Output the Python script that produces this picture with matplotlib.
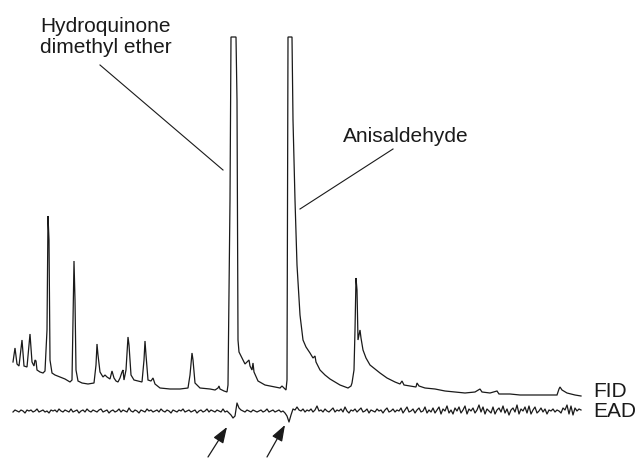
import numpy as np
import matplotlib
matplotlib.use("Agg")
import matplotlib.pyplot as plt

plt.rcParams['font.family'] = ['Liberation Sans', 'DejaVu Sans']

# FID trace: retention time (arb. units) and detector response (arb. units), peaks clipped at 363
fid_t = [13, 15, 17, 19, 22, 24, 27, 30, 32, 34, 35, 36, 37, 40, 43, 45, 47, 48, 49, 50,
         52, 55, 60, 65, 70, 72, 74, 75, 76, 78, 82, 88, 94, 96, 97, 98, 100, 103, 105, 107,
         110, 112, 114, 116, 118, 120, 122, 123, 124, 126, 128, 129, 131, 134, 138, 142, 144, 145, 146, 148,
         151, 153, 155, 160, 170, 180, 188, 190, 192, 193, 195, 200, 210, 215, 218, 219, 220, 224, 227, 228,
         230, 231, 236, 237, 238, 239, 242, 245, 247, 249, 250, 252, 253, 254, 258, 265, 275, 280, 282, 284,
         286, 287, 288, 292, 293, 295, 297, 300, 303, 306, 310, 313, 315, 316, 320, 325, 330, 335, 340, 348,
         351, 352, 354, 355, 356, 357, 358, 359, 360, 361, 363, 366, 370, 375, 380, 387, 395, 400, 402, 404,
         410, 416, 417, 419, 425, 435, 445, 455, 465, 475, 480, 482, 490, 497, 499, 510, 520, 530, 540, 550,
         557, 559, 560, 562, 567, 575, 581]
fid_v = [38, 52, 36, 34, 60, 34, 33, 66, 38, 34, 40, 39, 30, 28, 27, 29, 70, 184, 160, 40,
         27, 25, 23, 21, 18, 20, 139, 100, 30, 19, 17, 16, 17, 35, 56, 45, 28, 23, 25, 23,
         21, 29, 22, 19, 18, 22, 28, 30, 20, 30, 63, 55, 25, 20, 19, 18, 40, 59, 45, 20,
         19, 22, 16, 12, 11, 11, 12, 25, 47, 40, 17, 12, 11, 10, 12, 14, 11, 9, 8, 15,
         200, 363, 363, 300, 60, 48, 42, 36, 38, 40, 34, 30, 37, 28, 19, 15, 13, 12, 14, 12,
         10, 20, 363, 363, 280, 200, 135, 85, 60, 53, 47, 42, 44, 38, 30, 25, 21, 18, 15, 12,
         14, 17, 30, 70, 122, 110, 60, 65, 70, 62, 50, 42, 35, 31, 27, 22, 18, 16, 19, 15,
         14, 13, 17, 14, 12, 11, 9, 8, 7, 8, 11, 8, 7, 9, 6, 6, 5, 5, 5, 5,
         5, 11, 13, 10, 7, 5, 4]

# EAD trace: antennal response (arb. units), sampled every 2 time units from 13
ead_t = np.arange(13, 582, 2)
ead_v = [-1, 1, 0, -1, 1, 0, -2, 1, 0, 1,
         -1, 0, 2, -1, 0, 1, -1, 0, -2, 1,
         0, 1, -1, 2, 0, -1, 1, 0, -1, 2,
         -1, 0, 1, -2, 0, 1, -1, 2, 0, -1,
         1, 0, -1, 1, 2, -1, 0, 1, -2, 0,
         1, -1, 0, 2, -1, 1, 0, -1, 3, 0,
         -1, 1, 0, -2, 1, 0, -1, 2, 0, 1,
         -1, 0, 1, -1, 2, 0, -1, 1, 0, -2,
         1, 0, -1, 1, 0, 2, -1, 0, 1, -1,
         0, 1, -2, 0, 1, -1, 0, 2, -1, 1,
         0, -1, 1, 0, -1, 2, -1, 0, -2, -4,
         -7, -5, 8, 3, 1, 0, -1, 1, 0, -1,
         1, 0, -1, 0, 1, -1, 0, 2, -1, 0,
         1, -1, 0, 1, -1, 0, -2, -5, -11, -4,
         2, 1, 4, 1, 0, 2, -1, 1, 0, 2,
         -1, 1, 5, 0, 1, -1, 2, 0, -1, 1,
         3, -1, 1, 0, 2, -1, 4, 0, -2, 1,
         0, 2, -1, 1, 3, -1, 0, 2, -2, 1,
         0, -1, 2, 0, 1, -2, 1, 3, -1, 0,
         2, -1, 1, 0, 3, -2, 1, 4, -1, 0,
         2, -2, 1, 3, -1, 0, 4, -2, 1, -1,
         3, -2, 1, 4, -3, 2, 0, 5, -2, 1,
         -3, 3, 0, 4, -2, 1, 5, -3, 2, 0,
         3, -2, 1, 6, -1, 4, -3, 2, 0, -2,
         4, -3, 1, 3, -1, 5, -2, 2, -4, 1,
         3, -1, 6, -3, 2, 0, 4, -2, 5, -3,
         1, 4, -2, 0, 3, -1, 2, -3, 1, 0,
         2, -1, 1, 0, -2, 3, 1, 6, -3, 5,
         -4, 3, 0, 2, 1]

ead_offset = -11

fig = plt.figure(figsize=(6.35, 4.58), dpi=100)
ax = fig.add_axes([0, 0, 1, 1])
ax.plot(fid_t, fid_v, color='#1a1a1a', lw=0.9, solid_joinstyle='miter')
ax.plot(ead_t, np.array(ead_v) + ead_offset, color='#1a1a1a', lw=0.9)
ax.set_xlim(0, 635)
ax.set_ylim(-58, 400)
ax.axis('off')

# compound labels with leader lines
ax.text(40, 368, "Hydroquinone", fontsize=15, color='#1a1a1a')
ax.text(40, 347, "dimethyl ether", fontsize=15, color='#1a1a1a')
ax.plot([100, 223], [335, 230], color='#1a1a1a', lw=0.8)
ax.text(343, 258, "Anisaldehyde", fontsize=15, color='#1a1a1a')
ax.plot([393, 300], [251, 191], color='#1a1a1a', lw=0.8)

ax.text(593, 3, "FID", fontsize=15, color='#1a1a1a')
ax.text(593, -17, "EAD", fontsize=15, color='#1a1a1a')

# arrows to EAD responses
for x0, y0, x1, y1 in [(208, -57, 227, -27), (267, -57, 285, -25)]:
    ax.annotate("", xy=(x1, y1), xytext=(x0, y0),
                arrowprops=dict(arrowstyle='-|>,head_length=0.7,head_width=0.25', color='#1a1a1a', lw=0.9,
                                mutation_scale=14, shrinkA=0, shrinkB=0))

fig.savefig('out.png', dpi=100)
